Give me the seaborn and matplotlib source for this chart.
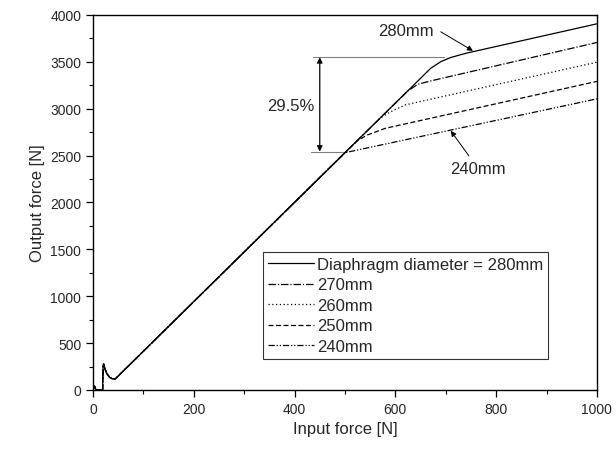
import numpy as np
import pandas as pd
import seaborn as sns
from matplotlib import pyplot as plt
from matplotlib.ticker import MultipleLocator

# shared rising part (all diameters follow the same curve until their knee)
base_x = [0, 3, 6, 19, 20, 21, 24, 28, 33, 38, 44, 500]
base_y = [0, 40, 0, 0, 250, 277, 220, 170, 135, 120, 117, 2530]

# part after the knee for each diaphragm diameter
d280_x = [670, 690, 710, 740, 1000]
d280_y = [3429, 3500, 3545, 3590, 3904]
d270_x = [625, 645, 670, 1000]
d270_y = [3190, 3260, 3295, 3705]
d260_x = [570, 590, 620, 1000]
d260_y = [2900, 2965, 3040, 3495]
d250_x = [525, 545, 580, 1000]
d250_y = [2660, 2720, 2790, 3290]
d240_x = [1000]
d240_y = [3104]

labels = ["Diaphragm diameter = 280mm", "270mm", "260mm", "250mm", "240mm"]
tails = [(d280_x, d280_y), (d270_x, d270_y), (d260_x, d260_y),
         (d250_x, d250_y), (d240_x, d240_y)]

rows = []
for lab, (tx, ty) in zip(labels, tails):
    xs = base_x + tx
    ys = base_y + ty
    for i, (a, b) in enumerate(zip(xs, ys)):
        rows.append({"series": lab, "order": i, "input": a, "output": b})
df = pd.DataFrame(rows)

sns.set_style("ticks")
plt.rcParams['font.family'] = ['Liberation Sans', 'DejaVu Sans']

fig = plt.figure(figsize=(6.16, 4.52), dpi=100)
ax = fig.add_axes([0.151, 0.135, 0.818, 0.830])

dashes = {
    labels[0]: "",
    labels[1]: (6, 1.5, 1, 1.5),
    labels[2]: (1, 2),
    labels[3]: (4, 2),
    labels[4]: (5, 1.5, 1, 1.5, 1, 1.5),
}
# draw from 240 upward so the 280 solid line sits on top of the shared part
for lab in labels[::-1]:
    sub = df[df["series"] == lab]
    sns.lineplot(data=sub, x="input", y="output", sort=False, ax=ax,
                 color="black", lw=0.9, dashes=False, label=lab,
                 linestyle=(0, dashes[lab]) if dashes[lab] else "-")

handles, labs = ax.get_legend_handles_labels()
order = [labs.index(l) for l in labels]
leg = ax.legend([handles[i] for i in order], [labs[i] for i in order],
                loc="lower left", bbox_to_anchor=(0.337, 0.083),
                fontsize=12, frameon=True, fancybox=False, edgecolor="black",
                handlelength=2.8, handletextpad=0.15, labelspacing=0.33,
                borderpad=0.3, borderaxespad=0)
leg.get_frame().set_linewidth(0.8)

ax.set_xlim(0, 1000)
ax.set_ylim(0, 4000)
ax.xaxis.set_major_locator(MultipleLocator(200))
ax.xaxis.set_minor_locator(MultipleLocator(100))
ax.yaxis.set_major_locator(MultipleLocator(500))
ax.yaxis.set_minor_locator(MultipleLocator(250))
ax.tick_params(which="major", length=5, width=0.9, labelsize=10, color="black")
ax.tick_params(which="minor", length=3, width=0.8, color="black")
for s in ax.spines.values():
    s.set_linewidth(1.0)
    s.set_color("black")
ax.set_xlabel("Input force [N]", fontsize=12)
ax.set_ylabel("Output force [N]", fontsize=12)

# 29.5% dimension mark
ax.plot([436, 697], [3548, 3548], color="gray", lw=0.8)
ax.plot([432, 496], [2542, 2542], color="gray", lw=0.8)
ax.annotate("", xy=(450, 3548), xytext=(450, 2542),
            arrowprops=dict(arrowstyle="<|-|>", color="black", lw=0.9,
                            mutation_scale=8, shrinkA=0, shrinkB=0))
ax.text(392, 3029, "29.5%", fontsize=12, ha="center", va="center")

# curve labels with leader arrows
ax.text(621, 3829, "280mm", fontsize=12, ha="center", va="center")
ax.annotate("", xy=(754, 3616), xytext=(690, 3819),
            arrowprops=dict(arrowstyle="-|>", color="black", lw=0.7,
                            mutation_scale=8, shrinkA=0, shrinkB=0))
ax.text(764, 2357, "240mm", fontsize=12, ha="center", va="center")
ax.annotate("", xy=(710, 2763), xytext=(746, 2496),
            arrowprops=dict(arrowstyle="-|>", color="black", lw=0.7,
                            mutation_scale=8, shrinkA=0, shrinkB=0))

fig.savefig("out.png", dpi=100)
